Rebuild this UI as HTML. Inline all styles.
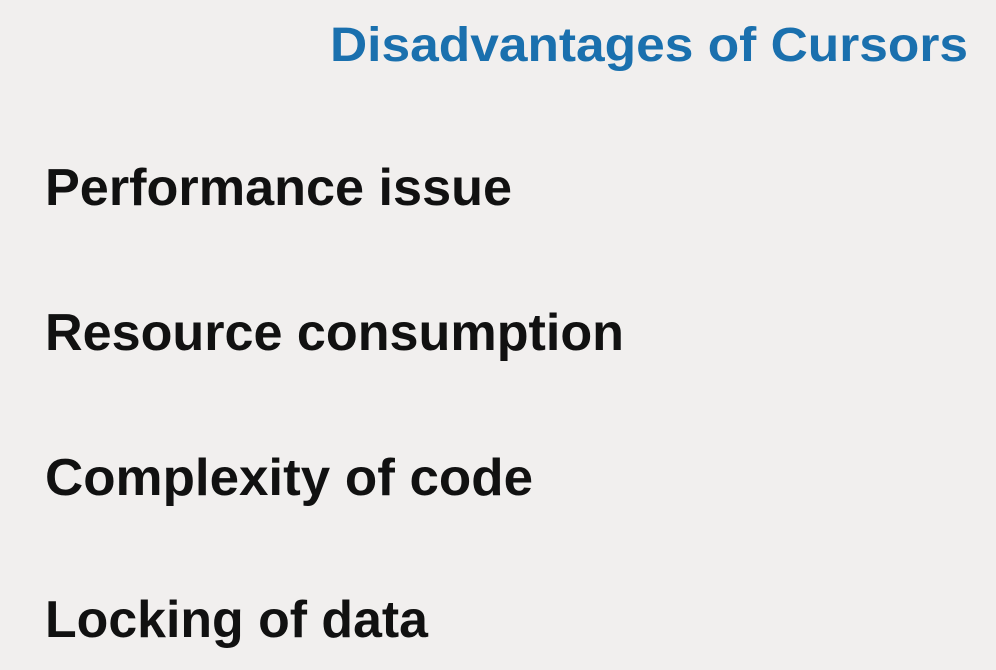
<!DOCTYPE html>
<html>
<head>
<meta charset="utf-8">
<style>
  html,body{margin:0;padding:0;background:#f1efee;}
  svg{display:block;}
  text{font-family:"Liberation Sans",sans-serif;font-weight:bold;}
</style>
</head>
<body>
<svg width="996" height="670" viewBox="0 0 996 670">
  <rect x="0" y="0" width="996" height="670" fill="#f1efee"/>
  <text x="330" y="61" font-size="48" fill="#1a70ae" textLength="638" lengthAdjust="spacingAndGlyphs">Disadvantages of Cursors</text>
  <text x="45" y="205" font-size="52" fill="#111111" textLength="467" lengthAdjust="spacingAndGlyphs">Performance issue</text>
  <text x="45" y="350" font-size="52" fill="#111111" textLength="579" lengthAdjust="spacingAndGlyphs">Resource consumption</text>
  <text x="45" y="495" font-size="52" fill="#111111" textLength="488" lengthAdjust="spacingAndGlyphs">Complexity of code</text>
  <text x="45" y="637" font-size="52" fill="#111111" textLength="383" lengthAdjust="spacingAndGlyphs">Locking of data</text>
</svg>
</body>
</html>
